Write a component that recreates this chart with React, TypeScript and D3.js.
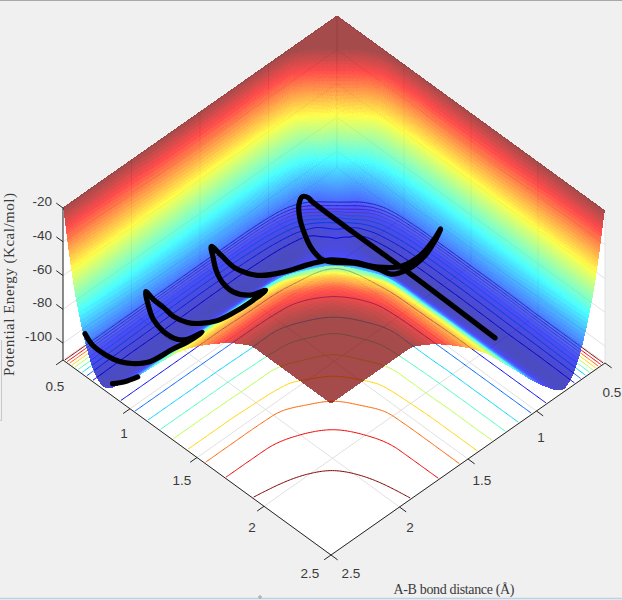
import React, { useEffect, useRef } from "react";
import * as d3 from "d3";

// ---- data -----------------------------------------------------------------
const bondKnots = [0.5, 0.55, 0.6, 0.7, 0.75, 0.8, 0.85, 0.9, 1, 1.2, 1.4, 1.6, 1.8, 2, 2.2, 2.5];
// Energy (kcal/mol) on the knots: upper triangle, each row starts at the diagonal.
const energyRow050 = [60, 50, 40, 20, 8, 0, -5, -9, -14, -18, -18, -18, -18, -16, -16, -16];
const energyRow055 = [20, 12, 0, -8, -16, -25, -33, -43, -50, -51, -51, -50, -49, -47, -45];
const energyRow060 = [12, -8, -20, -32, -45, -55, -65, -72, -74, -74, -73, -72, -70, -68];
const energyRow070 = [-33, -48, -62, -75, -84, -93, -98, -99, -99, -98.5, -98, -98, -97];
const energyRow075 = [-68, -77, -87, -95, -102, -105.5, -106, -106, -105.5, -105, -105, -105];
const energyRow080 = [-85, -93, -99, -106, -108.5, -108.5, -108.5, -108, -108, -108, -108];
const energyRow085 = [-98, -102, -105.5, -107.5, -107.5, -107, -106.5, -106, -106, -106];
const energyRow090 = [-101.5, -103.5, -104, -103, -102.5, -102, -102, -102, -102];
const energyRow100 = [-101, -97, -93.5, -93.2, -93, -93, -93, -93];
const energyRow120 = [-87, -79, -73, -72.5, -72, -72, -72];
const energyRow140 = [-65.5, -59, -53, -52.5, -52, -52];
const energyRow160 = [-48, -42, -37.5, -37, -37];
const energyRow180 = [-33, -28.5, -25.5, -25];
const energyRow200 = [-22.5, -19.5, -17];
const energyRow220 = [-15, -12.5];
const energyRow250 = [-9];
const energyRows = [energyRow050, energyRow055, energyRow060, energyRow070, energyRow075, energyRow080, energyRow085, energyRow090,
  energyRow100, energyRow120, energyRow140, energyRow160, energyRow180, energyRow200, energyRow220, energyRow250];

const contourLevels = [-100, -90, -80, -70, -60, -50, -40, -30, -20];
const bondTicks = [0.5, 1, 1.5, 2, 2.5];
const energyTicks = [-20, -40, -60, -80, -100];

const trajAB = [2.085, 1.445, 1.077, 0.703, 0.669, 0.642, 0.671, 0.746, 0.847, 0.943, 1.036, 1.089, 1.179, 1.298, 1.372, 1.408, 1.401, 1.361, 1.317, 1.346, 1.38, 1.368, 1.288, 1.174, 1.078, 1.025, 0.961, 0.902, 0.844, 0.761, 0.652, 0.569, 0.638, 0.71, 0.803, 0.889, 0.967, 0.997, 1.003, 0.996, 0.978, 0.931, 0.878, 0.795, 0.712, 0.635, 0.565, 0.652, 0.737, 0.835, 0.928, 0.965, 0.984, 0.98, 0.964, 0.945, 0.892, 0.834, 0.755, 0.653, 0.562];
const trajBC = [0.897, 0.885, 0.885, 0.881, 0.875, 0.892, 0.945, 1.012, 1.075, 1.121, 1.14, 1.119, 1.039, 0.98, 0.958, 0.87, 0.745, 0.631, 0.543, 0.616, 0.746, 0.88, 0.97, 1.034, 1.108, 1.203, 1.359, 1.448, 1.486, 1.507, 1.494, 1.485, 1.538, 1.588, 1.629, 1.635, 1.587, 1.507, 1.623, 1.742, 1.842, 1.919, 1.962, 1.983, 1.974, 1.971, 1.959, 2.024, 2.073, 2.097, 2.086, 2.049, 1.958, 2.064, 2.152, 2.303, 2.376, 2.414, 2.431, 2.431, 2.4];
const trajEnergy = -96.5;
const tailAB = [0.849, 0.883, 0.906];
const tailBC = [2.48, 2.425, 2.352];
const tailEnergy = -105;

// ---- scales -----------------------------------------------------------------
const W = 622, H = 600;
const zFloor = -110, zTop = -20;
const front = { x: 331, y: 555 };
const axX = d3.scaleLinear([0.5, 2.5], [-268, 0]);
const axY = d3.scaleLinear([0.5, 2.5], [-195, 0]);
const bxX = d3.scaleLinear([0.5, 2.5], [274, 0]);
const bxY = d3.scaleLinear([0.5, 2.5], [-192, 0]);
const zY = d3.scaleLinear([zFloor, zTop], [0, -152]);
const px = (a: number, b: number) => front.x + axX(a) + bxX(b);
const py = (a: number, b: number, z = zFloor) => front.y + axY(a) + bxY(b) + zY(z);

const colorScale = d3.scaleLinear<string>()
  .domain([0, 0.125, 0.375, 0.625, 0.875, 1])
  .range(["#00007f", "#0000ff", "#00ffff", "#ffff00", "#ff0000", "#7f0000"]);
const contourT = d3.scaleLinear([-110, -20], [0, 1]).clamp(true);
const surfaceT = d3.scaleLinear([-108, -100, -20], [0.04, 0.09, 1]).clamp(true);

const table: number[][] = bondKnots.map((_, i) => bondKnots.map((_, j) => {
  const lo = Math.min(i, j), hi = Math.max(i, j);
  return energyRows[lo][hi - lo];
}));

// Shape-preserving cubic resampling of one row of the table
function resample(ys: number[], x: number) {
  const xs = bondKnots;
  const n = xs.length;
  let i = d3.bisectRight(xs, x) - 1;
  i = Math.max(0, Math.min(n - 2, i));
  const h = xs[i + 1] - xs[i];
  const slope = (k: number) => (ys[k + 1] - ys[k]) / (xs[k + 1] - xs[k]);
  const tan = (k: number) => {
    if (k === 0) return slope(0);
    if (k === n - 1) return slope(n - 2);
    const s0 = slope(k - 1), s1 = slope(k);
    if (s0 * s1 <= 0) return 0;
    const h0 = xs[k] - xs[k - 1], h1 = xs[k + 1] - xs[k];
    return (3 * (h0 + h1)) / ((2 * h1 + h0) / s0 + (h1 + 2 * h0) / s1);
  };
  const t = (x - xs[i]) / h;
  const t2 = t * t, t3 = t2 * t;
  return (2 * t3 - 3 * t2 + 1) * ys[i] + (t3 - 2 * t2 + t) * h * tan(i) + (-2 * t3 + 3 * t2) * ys[i + 1] + (t3 - t2) * h * tan(i + 1);
}
function sampleGrid(rows: number[], cols: number[]) {
  const partial = table.map((row) => cols.map((r) => resample(row, r)));
  return rows.map((ra) => cols.map((_, j) => resample(partial.map((p) => p[j]), ra)));
}

export default function App() {
  const ref = useRef<SVGSVGElement>(null);
  useEffect(() => {
    const svg = d3.select(ref.current!);
    svg.selectAll("*").remove();

    // background
    svg.append("rect").attr("width", W).attr("height", H).attr("fill", "#f0f0f0");
    svg.append("line").attr("x1", 0).attr("x2", W).attr("y1", 0.5).attr("y2", 0.5).attr("stroke", "#a8a8a8");
    svg.append("line").attr("x1", 0).attr("x2", W).attr("y1", 598.5).attr("y2", 598.5).attr("stroke", "#b9d3e6").attr("stroke-width", 1.5);
    svg.append("path").attr("d", "M1.5,340V420.5H0").attr("fill", "none").attr("stroke", "#c8c8c8");
    svg.append("circle").attr("cx", 260).attr("cy", 597).attr("r", 1.2).attr("fill", "none").attr("stroke", "#999");

    // white axes box
    const hex: [number, number, number][] = [[0.5, 2.5, zFloor], [2.5, 2.5, zFloor], [2.5, 0.5, zFloor], [2.5, 0.5, zTop], [0.5, 0.5, zTop], [0.5, 2.5, zTop]];
    svg.append("polygon").attr("fill", "#fff").attr("points", hex.map((p) => `${px(p[0], p[1])},${py(p[0], p[1], p[2])}`).join(" "));

    // grid
    const gridG = svg.append("g").attr("stroke", "#e1e1e1").attr("fill", "none");
    const seg = (p: number[], q: number[]) => gridG.append("line")
      .attr("x1", px(p[0], p[1])).attr("y1", py(p[0], p[1], p[2]))
      .attr("x2", px(q[0], q[1])).attr("y2", py(q[0], q[1], q[2]));
    bondTicks.forEach((t) => {
      seg([t, 0.5, zFloor], [t, 2.5, zFloor]);
      seg([0.5, t, zFloor], [2.5, t, zFloor]);
      seg([t, 0.5, zFloor], [t, 0.5, zTop]);
      seg([0.5, t, zFloor], [0.5, t, zTop]);
    });
    energyTicks.forEach((z) => {
      seg([0.5, 0.5, z], [0.5, 2.5, z]);
      seg([0.5, 0.5, z], [2.5, 0.5, z]);
    });

    // floor contours, from a uniform grid
    const N = 240;
    const rOf = d3.scaleLinear([0, N - 1], [0.5, 2.5]);
    const us = d3.range(N).map((i) => rOf(i));
    const ug = sampleGrid(us, us);
    const contours = d3.contours().size([N, N]).thresholds(contourLevels)(us.flatMap((_, j) => us.map((_, i) => ug[i][j])));
    const contourG = svg.append("g").attr("fill", "none").attr("stroke-width", 1);
    contours.forEach((c: any) => {
      let d = "";
      c.coordinates.forEach((poly: number[][][]) => poly.forEach((ring) => {
        let pen = false;
        ring.forEach(([x, y]) => {
          const out = x <= 0.5 || y <= 0.5 || x >= N - 0.5 || y >= N - 0.5;
          if (out) { pen = false; return; }
          const a = rOf(x - 0.5), b = rOf(y - 0.5);
          d += `${pen ? "L" : "M"}${px(a, b).toFixed(2)},${py(a, b).toFixed(2)}`;
          pen = true;
        });
      }));
      contourG.append("path").attr("d", d).attr("stroke", colorScale(contourT(c.value)));
    });

    // surface mesh: finer where the surface is steep; painted back to front as one sheet
    const rs = [...d3.range(0.5, 0.62, 0.003), ...d3.range(0.62, 0.9, 0.006), ...d3.range(0.9, 1.5, 0.013), ...d3.range(1.5, 2.5, 0.04), 2.5];
    const grid = sampleGrid(rs, rs);
    const M = rs.length;
    const surf = svg.append("g").attr("opacity", 0.7);
    const node = surf.node()!;
    const NS = "http://www.w3.org/2000/svg";
    const frag = document.createDocumentFragment();
    const cells: [number, number][] = [];
    for (let i = 0; i < M - 1; i++) for (let j = 0; j < M - 1; j++) cells.push([i, j]);
    cells.sort((p, q) => (rs[p[0]] + rs[p[1]]) - (rs[q[0]] + rs[q[1]]));
    const zc = (v: number) => Math.min(v, zTop);
    cells.forEach(([i, j]) => {
      const corners: [number, number][] = [[i, j], [i + 1, j], [i + 1, j + 1], [i, j + 1]];
      const zs = corners.map(([p, q]) => zc(grid[p][q]));
      const col = colorScale(surfaceT((zs[0] + zs[1] + zs[2] + zs[3]) / 4));
      const d = "M" + corners.map(([p, q], k) => `${px(rs[p], rs[q]).toFixed(2)},${py(rs[p], rs[q], zs[k]).toFixed(2)}`).join("L") + "Z";
      const el = document.createElementNS(NS, "path");
      el.setAttribute("d", d);
      el.setAttribute("fill", col);
      el.setAttribute("stroke", col);
      el.setAttribute("stroke-width", "1");
      el.setAttribute("shape-rendering", "crispEdges");
      frag.appendChild(el);
    });
    node.appendChild(frag);

    // axes
    const axisG = svg.append("g").attr("stroke", "#262626").attr("fill", "none").attr("stroke-width", 1);
    const line = (p: number[], q: number[]) => axisG.append("line")
      .attr("x1", px(p[0], p[1])).attr("y1", py(p[0], p[1], p[2]))
      .attr("x2", px(q[0], q[1])).attr("y2", py(q[0], q[1], q[2]));
    line([0.5, 2.5, zFloor], [2.5, 2.5, zFloor]);
    line([2.5, 2.5, zFloor], [2.5, 0.5, zFloor]);
    line([0.5, 2.5, zFloor], [0.5, 2.5, zTop]);
    const tl = 0.05;
    bondTicks.forEach((t) => {
      line([t, 2.5, zFloor], [t, 2.5 + tl, zFloor]);
      line([2.5, t, zFloor], [2.5 + tl, t, zFloor]);
    });
    energyTicks.forEach((z) => line([0.5, 2.5, z], [0.5 - tl, 2.5, z]));

    // trajectory
    const trajLine = d3.line<number>()
      .x((i) => px(trajAB[i], trajBC[i]))
      .y((i) => py(trajAB[i], trajBC[i], trajEnergy))
      .curve(d3.curveCatmullRom.alpha(0.5));
    const tailLine = d3.line<number>()
      .x((i) => px(tailAB[i], tailBC[i]))
      .y((i) => py(tailAB[i], tailBC[i], tailEnergy))
      .curve(d3.curveCatmullRom.alpha(0.5));
    const trajG = svg.append("g").attr("fill", "none").attr("stroke", "#000").attr("stroke-width", 5.2).attr("stroke-linecap", "round").attr("stroke-linejoin", "round");
    trajG.append("path").attr("d", trajLine(d3.range(trajAB.length)));
    trajG.append("path").attr("d", tailLine(d3.range(tailAB.length)));

    // labels
    const text = (x: number, y: number, s: string, anchor = "middle") => svg.append("text")
      .attr("x", x).attr("y", y).attr("text-anchor", anchor).attr("font-family", "Liberation Sans").attr("font-size", 13.5).attr("fill", "#3a3a3a").text(s);
    const leftPos = [[55, 391], [124, 438], [182, 485], [252, 532], [310, 578]];
    const rightPos = [[612, 397], [541, 442], [482, 485], [410, 532], [351, 578]];
    bondTicks.forEach((t, i) => {
      text(leftPos[i][0], leftPos[i][1], String(t));
      text(rightPos[i][0], rightPos[i][1], String(t));
    });
    energyTicks.forEach((z) => text(52, py(0.5, 2.5, z) - 2, String(z), "end"));

    svg.append("text").attr("transform", "translate(14,284.5) rotate(-90)").attr("text-anchor", "middle")
      .attr("font-family", "Liberation Serif").attr("font-size", 15).attr("textLength", 183).attr("lengthAdjust", "spacing").attr("fill", "#3a3a3a").text("Potential Energy (Kcal/mol)");
    svg.append("text").attr("x", 454).attr("y", 594).attr("text-anchor", "middle")
      .attr("font-family", "Liberation Serif").attr("font-size", 14).attr("textLength", 121).attr("lengthAdjust", "spacing").attr("fill", "#3a3a3a").text("A-B bond distance (Å)");
  }, []);
  return <svg ref={ref} width={W} height={H} style={{ position: "absolute", left: 0, top: 0, display: "block" }} />;
}
